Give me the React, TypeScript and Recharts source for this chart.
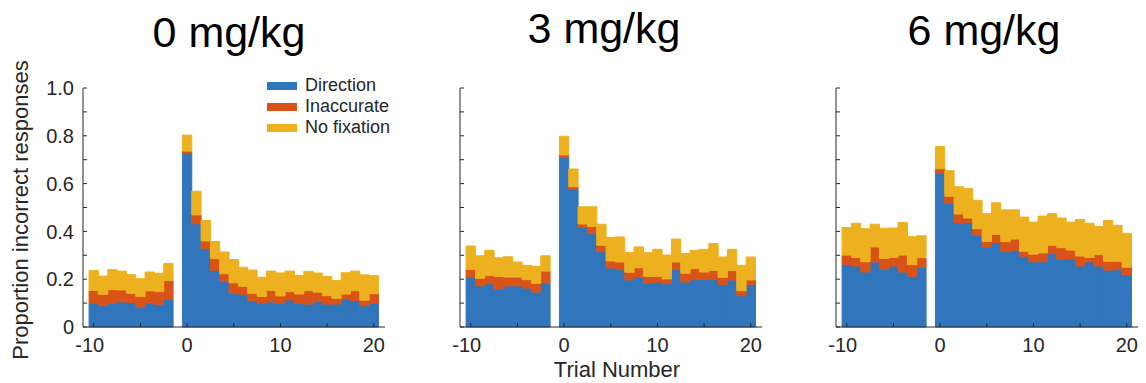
import { BarChart, Bar, XAxis, YAxis, Legend } from 'recharts'

// ── Data ──────────────────────────────────────────────────────────────────────

// trial -1 has no bar (the gap between pre- and post-switch trials)
const TRIALS = [
  -10, -9, -8, -7, -6, -5, -4, -3, -2,
  0, 1, 2, 3, 4, 5, 6, 7, 8, 9, 10, 11, 12, 13, 14, 15, 16, 17, 18, 19, 20,
]

const X_TICKS = [-10, -5, 0, 5, 10, 15, 20]
const Y_TICKS = [0, 0.1, 0.2, 0.3, 0.4, 0.5, 0.6, 0.7, 0.8, 0.9, 1.0]

const DOSE_TITLES = ['0 mg/kg', '3 mg/kg', '6 mg/kg']
const SERIES_NAMES = ['Direction', 'Inaccurate', 'No fixation']

// 0 mg/kg
const direction0 = [
  0.100, 0.089, 0.099, 0.105, 0.103, 0.082, 0.100, 0.095, 0.116,
  0.725, 0.432, 0.328, 0.237, 0.190, 0.141, 0.137, 0.110, 0.099, 0.105, 0.099,
  0.113, 0.099, 0.096, 0.106, 0.096, 0.096, 0.116, 0.110, 0.089, 0.100,
]
const inaccurate0 = [
  0.053, 0.048, 0.057, 0.050, 0.038, 0.046, 0.051, 0.053, 0.078,
  0.011, 0.037, 0.032, 0.049, 0.033, 0.044, 0.033, 0.031, 0.029, 0.048, 0.031,
  0.035, 0.039, 0.056, 0.040, 0.035, 0.024, 0.022, 0.042, 0.023, 0.039,
]
const noFixation0 = [
  0.083, 0.076, 0.084, 0.079, 0.078, 0.074, 0.079, 0.077, 0.072,
  0.067, 0.099, 0.086, 0.072, 0.091, 0.097, 0.080, 0.097, 0.080, 0.081, 0.096,
  0.086, 0.077, 0.081, 0.080, 0.080, 0.074, 0.089, 0.082, 0.106, 0.076,
]

// 3 mg/kg
const direction3 = [
  0.209, 0.172, 0.181, 0.159, 0.172, 0.172, 0.163, 0.146, 0.183,
  0.709, 0.575, 0.416, 0.391, 0.315, 0.247, 0.240, 0.197, 0.208, 0.184, 0.188,
  0.181, 0.240, 0.188, 0.198, 0.199, 0.199, 0.177, 0.197, 0.131, 0.176,
]
const inaccurate3 = [
  0.032, 0.032, 0.035, 0.053, 0.037, 0.037, 0.035, 0.037, 0.051,
  0.011, 0.012, 0.015, 0.030, 0.027, 0.029, 0.032, 0.032, 0.040, 0.028, 0.024,
  0.020, 0.032, 0.037, 0.046, 0.031, 0.038, 0.031, 0.039, 0.021, 0.021,
]
const noFixation3 = [
  0.098, 0.094, 0.105, 0.078, 0.085, 0.063, 0.060, 0.071, 0.064,
  0.078, 0.074, 0.072, 0.082, 0.088, 0.099, 0.105, 0.083, 0.087, 0.099, 0.113,
  0.100, 0.096, 0.083, 0.077, 0.095, 0.112, 0.085, 0.089, 0.106, 0.096,
]

// 6 mg/kg
const direction6 = [
  0.262, 0.255, 0.230, 0.272, 0.241, 0.255, 0.230, 0.212, 0.250,
  0.643, 0.517, 0.435, 0.438, 0.384, 0.333, 0.354, 0.315, 0.321, 0.296, 0.273,
  0.273, 0.307, 0.283, 0.285, 0.255, 0.273, 0.255, 0.238, 0.240, 0.218,
]
const inaccurate6 = [
  0.039, 0.036, 0.043, 0.063, 0.046, 0.036, 0.071, 0.049, 0.040,
  0.019, 0.030, 0.038, 0.018, 0.027, 0.025, 0.034, 0.042, 0.047, 0.021, 0.032,
  0.037, 0.035, 0.049, 0.037, 0.042, 0.018, 0.048, 0.037, 0.035, 0.032,
]
const noFixation6 = [
  0.115, 0.143, 0.138, 0.095, 0.126, 0.123, 0.136, 0.117, 0.092,
  0.093, 0.107, 0.114, 0.123, 0.119, 0.116, 0.132, 0.133, 0.122, 0.143, 0.134,
  0.154, 0.132, 0.124, 0.117, 0.153, 0.143, 0.118, 0.171, 0.150, 0.142,
]

// ── Styling ───────────────────────────────────────────────────────────────────

const FONT = '"Liberation Sans", Arial, Helvetica, sans-serif'
const INK = '#262626'
const BLUE = '#3176bc'
const ORANGE = '#d95319'
const YELLOW = '#edb120'

const X_DOMAIN: [number, number] = [-11.15, 21.2]
const PLOT_W = 302
const PLOT_H = 239
const Y_AXIS_W = 50
const X_AXIS_H = 50
const TOP_PAD = 28
const CHART_TOP = 60

// left edge of each chart (y-axis line sits at left + Y_AXIS_W)
const PANEL_LEFT = [33, 409.5, 786]

// ── Helpers ───────────────────────────────────────────────────────────────────

interface Row {
  trial: number
  direction: number
  inaccurate: number
  noFixation: number
}

function buildRows(d: number[], i: number[], n: number[]): Row[] {
  return TRIALS.map((t, k) => ({
    trial: t,
    direction: d[k],
    inaccurate: i[k],
    noFixation: n[k],
  }))
}

const PANEL_ROWS = [
  buildRows(direction0, inaccurate0, noFixation0),
  buildRows(direction3, inaccurate3, noFixation3),
  buildRows(direction6, inaccurate6, noFixation6),
]

function formatY(v: number): string {
  if (v === 0) return '0'
  return Math.round(v * 10) % 2 === 0 ? v.toFixed(1) : ''
}

// ── Ticks & legend ────────────────────────────────────────────────────────────

function TrialTick(props: any) {
  const { x, y, payload } = props
  const v = payload.value as number
  if (v % 10 !== 0) return null
  return (
    <text
      x={x}
      y={y}
      dx={v < 0 ? -4 : 0}
      dy="0.71em"
      textAnchor="middle"
      fill={INK}
      fontSize={20}
      fontFamily={FONT}
    >
      {v}
    </text>
  )
}

function SwatchLegend(props: any) {
  const payload = (props.payload || []) as { value: string; color: string }[]
  return (
    <div style={{ fontFamily: FONT, fontSize: 18, color: INK }}>
      {payload.map((e) => (
        <div
          key={e.value}
          style={{ display: 'flex', alignItems: 'center', height: 21, whiteSpace: 'nowrap' }}
        >
          <span
            style={{ width: 30, height: 8, background: e.color, marginRight: 8, display: 'inline-block' }}
          />
          <span>{e.value}</span>
        </div>
      ))}
    </div>
  )
}

// ── Panel ─────────────────────────────────────────────────────────────────────

interface PanelProps {
  rows: Row[]
  left: number
  showYLabels: boolean
  showLegend: boolean
}

function Panel({ rows, left, showYLabels, showLegend }: PanelProps) {
  return (
    <div style={{ position: 'absolute', left, top: CHART_TOP }}>
      <BarChart
        width={Y_AXIS_W + PLOT_W}
        height={TOP_PAD + PLOT_H + X_AXIS_H}
        data={rows}
        margin={{ top: TOP_PAD, right: 0, bottom: 0, left: 0 }}
        barCategoryGap={0}
        barGap={0}
      >
        <XAxis
          dataKey="trial"
          type="number"
          domain={X_DOMAIN}
          ticks={X_TICKS}
          interval={0}
          height={X_AXIS_H}
          stroke={INK}
          tickSize={-4}
          tickMargin={14.5}
          tick={<TrialTick />}
        />
        <YAxis
          type="number"
          domain={[0, 1]}
          ticks={Y_TICKS}
          interval={0}
          width={Y_AXIS_W}
          stroke={INK}
          tickSize={-4}
          tickMargin={13}
          tick={{ fill: INK, fontSize: 20, fontFamily: FONT }}
          tickFormatter={(v: number) => (showYLabels ? formatY(v) : '')}
        />
        {showLegend && (
          <Legend
            layout="vertical"
            align="center"
            verticalAlign="middle"
            content={<SwatchLegend />}
            wrapperStyle={{ left: 234, top: 15, width: 'auto' }}
          />
        )}
        {/* same-colour 1px stroke hides the anti-aliasing seams between bars */}
        <Bar dataKey="direction" name={SERIES_NAMES[0]} stackId="a" fill={BLUE}
          stroke={BLUE} strokeWidth={1} barSize={9.33} isAnimationActive={false} />
        <Bar dataKey="inaccurate" name={SERIES_NAMES[1]} stackId="a" fill={ORANGE}
          stroke={ORANGE} strokeWidth={1} barSize={9.33} isAnimationActive={false} />
        <Bar dataKey="noFixation" name={SERIES_NAMES[2]} stackId="a" fill={YELLOW}
          stroke={YELLOW} strokeWidth={1} barSize={9.33} isAnimationActive={false} />
      </BarChart>
    </div>
  )
}

// ── App ───────────────────────────────────────────────────────────────────────

const TITLE_POS = [
  { x: 229, y: 47 },
  { x: 604, y: 43 },
  { x: 984, y: 45 },
]

export default function App() {
  return (
    <div
      style={{
        position: 'absolute',
        left: 0,
        top: 0,
        width: 1146,
        height: 383,
        background: '#fff',
        fontFamily: FONT,
      }}
    >
      {PANEL_ROWS.map((rows, i) => (
        <Panel
          key={DOSE_TITLES[i]}
          rows={rows}
          left={PANEL_LEFT[i]}
          showYLabels={i === 0}
          showLegend={i === 0}
        />
      ))}

      <svg
        width={1146}
        height={383}
        style={{ position: 'absolute', left: 0, top: 0, pointerEvents: 'none' }}
      >
        {DOSE_TITLES.map((t, i) => (
          <text
            key={t}
            x={TITLE_POS[i].x}
            y={TITLE_POS[i].y}
            textAnchor="middle"
            fontSize={43}
            fontFamily={FONT}
            fill="#000"
          >
            {t}
          </text>
        ))}
        <text
          x={617}
          y={376.5}
          textAnchor="middle"
          fontSize={22}
          fontFamily={FONT}
          fill={INK}
        >
          Trial Number
        </text>
        <text
          transform="translate(28, 210) rotate(-90)"
          textAnchor="middle"
          fontSize={22}
          fontFamily={FONT}
          fill={INK}
        >
          Proportion incorrect responses
        </text>
      </svg>
    </div>
  )
}
